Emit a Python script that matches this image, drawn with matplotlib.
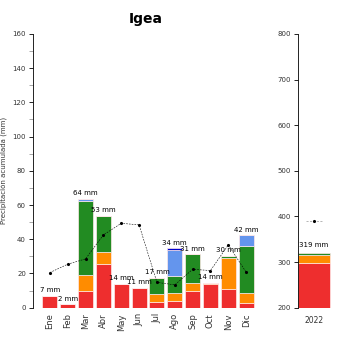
import matplotlib.pyplot as plt
import numpy as np

# Monthly accumulated precipitation (mm), stacked by component
months = ['Ene', 'Feb', 'Mar', 'Abr', 'May', 'Jun', 'Jul', 'Ago', 'Sep', 'Oct', 'Nov', 'Dic']
red = [7, 2, 10, 25.5, 14, 11.5, 3.5, 4, 9.5, 13.8, 11, 3]
orange = [0, 0, 9, 7.3, 0, 0, 4.3, 4.6, 4.8, 0.8, 17.8, 5.8]
green = [0, 0, 43.2, 21, 0, 0, 9.6, 10, 17, 0, 1.5, 27]
lightblue = [0, 0, 1.6, 0, 0, 0, 0, 15.2, 0, 0, 0, 6.4]
darkblue = [0, 0, 0, 0, 0, 0, 0, 1, 0, 0, 0, 0]
totals_lbl = ['7 mm', '2 mm', '64 mm', '53 mm', '14 mm', '11 mm', '17 mm', '34 mm',
              '31 mm', '14 mm', '30 mm', '42 mm']
mean_line = [20.5, 25.4, 28.5, 42.5, 49.3, 48.4, 14.8, 13.3, 22.4, 21.7, 36.7, 20.7]

# Annual
year = ['2022']
y_red = [298.5]
y_orange = [17]
y_green = [4.5]
year_lbl = ['319 mm']
year_mean = [390]

colors = ['#EE2E2E', '#FF8C00', '#228B22', '#6495ED', '#0000CD']

fig = plt.figure(figsize=(3.5, 3.5), dpi=100)
ax = fig.add_axes([0.094, 0.121, 0.645, 0.782])
ax2 = fig.add_axes([0.851, 0.121, 0.105, 0.782])

x = np.arange(len(months))
bottom = np.zeros(len(months))
for vals, c in zip([red, orange, green, lightblue, darkblue], colors):
    ax.bar(x, vals, 0.84, bottom=bottom, color=c, edgecolor='#FFE8E8', linewidth=0.5)
    bottom += np.array(vals)

for i, lbl in enumerate(totals_lbl):
    ax.text(x[i], bottom[i] + 1.5, lbl, ha='center', va='bottom', fontsize=5)

ax.plot(x, mean_line, color='black', linestyle=(0, (3, 2)), linewidth=0.4,
        marker='.', markersize=2.5)

ax.set_xlim(-0.95, 11.7)
ax.set_ylim(0, 160)
ax.set_yticks(np.arange(0, 161, 20))
ax.set_yticks(np.arange(10, 160, 20), minor=True)
ax.tick_params(axis='y', which='major', labelsize=5, length=3, width=0.6, labelcolor='#333333', pad=2)
ax.tick_params(axis='y', which='minor', length=3, width=0.6, color='#999999')
ax.set_xticks(x)
ax.set_xticklabels(months, rotation=90, fontsize=6, color='#333333')
ax.tick_params(axis='x', length=0, pad=4)
for s in ['top', 'right', 'bottom']:
    ax.spines[s].set_visible(False)
ax.spines['left'].set_linewidth(0.6)
ax.set_ylabel('Precipitación acumulada (mm)', fontsize=5, color='#333333', labelpad=4)
ax.set_title('Igea', fontsize=10, fontweight='bold', pad=8)

# Annual panel
xy = np.arange(len(year))
b2 = np.zeros(len(year))
for vals, c in zip([y_red, y_orange, y_green], colors):
    ax2.bar(xy, vals, 1.0, bottom=b2, color=c, edgecolor='#FFE8E8', linewidth=0.5,
            align='edge')
    b2 += np.array(vals)
ax2.text(0.5, b2[0] + 10, year_lbl[0], ha='center', va='bottom', fontsize=5)
ax2.plot([0.25, 0.75], [year_mean[0]] * 2, color='#999999', linestyle=(0, (3, 2)), linewidth=0.5)
ax2.plot([0.5], year_mean, color='black', marker='.', markersize=2.5)
ax2.set_xlim(0, 1.15)
ax2.set_ylim(200, 800)
ax2.set_yticks(np.arange(200, 801, 100))
ax2.tick_params(axis='y', labelsize=5, length=3, width=0.6, labelcolor='#333333', pad=2)
ax2.set_xticks([0.5])
ax2.set_xticklabels(year, fontsize=5.5, color='#333333')
ax2.tick_params(axis='x', length=0, pad=6)
for s in ['top', 'right', 'bottom']:
    ax2.spines[s].set_visible(False)
ax2.spines['left'].set_linewidth(0.6)

fig.savefig('out.png', dpi=100)
